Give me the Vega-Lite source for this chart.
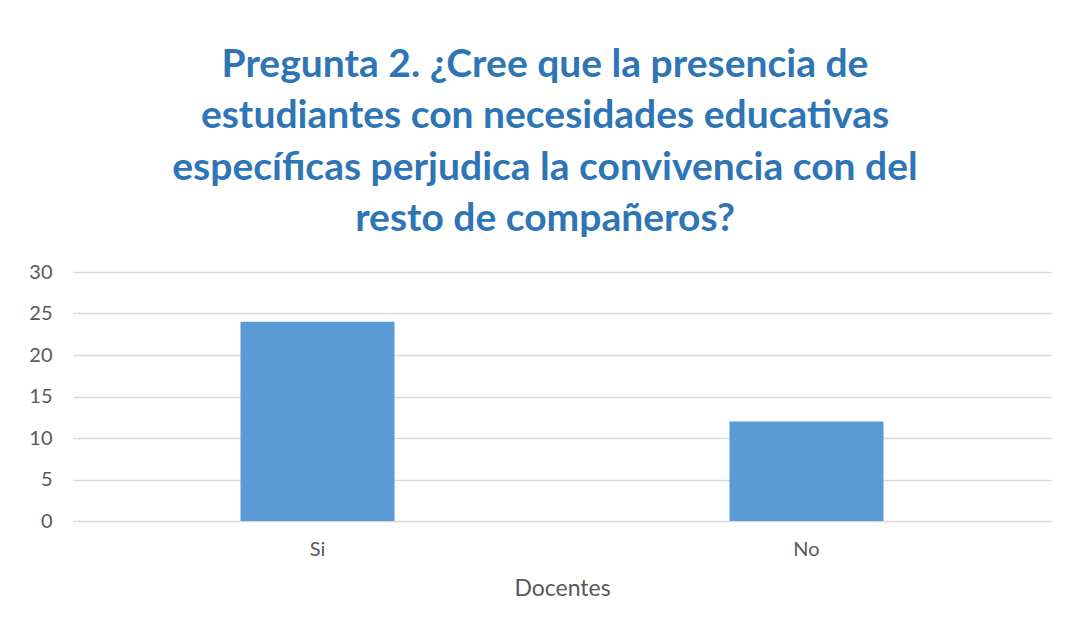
{
  "$schema": "https://vega.github.io/schema/vega-lite/v6.json",
  "width": 978,
  "height": 249,
  "autosize": {"type": "none"},
  "padding": {"left": 73, "top": 272, "right": 18, "bottom": 110},
  "background": "white",
  "title": {
    "text": ["Pregunta 2. ¿Cree que la presencia de", "estudiantes con necesidades educativas", "específicas perjudica la convivencia con del", "resto de compañeros?"],
    "font": "Lato",
    "fontWeight": "bold",
    "fontSize": 39,
    "lineHeight": 51.5,
    "color": "#2E75B6",
    "anchor": "middle",
    "dx": -17,
    "offset": 23
  },
  "data": {"values": [
    {"respuesta": "Si", "docentes": 24},
    {"respuesta": "No", "docentes": 12}
  ]},
  "mark": {"type": "bar", "color": "#5B9BD5"},
  "encoding": {
    "x": {
      "field": "respuesta", "type": "nominal", "sort": ["Si", "No"],
      "scale": {"paddingInner": 0.685, "paddingOuter": 0.3425},
      "axis": {"title": "Docentes", "labelAngle": 0, "ticks": false, "domain": false, "labelPadding": 18, "titlePadding": 18, "titleFontSize": 23}
    },
    "y": {
      "field": "docentes", "type": "quantitative",
      "scale": {"domain": [0, 30]},
      "axis": {"title": null, "values": [0, 5, 10, 15, 20, 25, 30], "ticks": false, "domain": false, "labelPadding": 21}
    }
  },
  "config": {
    "view": {"stroke": null},
    "axis": {
      "labelFont": "Lato", "labelFontSize": 20, "labelColor": "#595959",
      "titleFont": "Lato", "titleFontWeight": "normal", "titleColor": "#595959",
      "gridColor": "#D9D9D9", "gridWidth": 1.3
    },
    "axisX": {"grid": false}
  }
}
